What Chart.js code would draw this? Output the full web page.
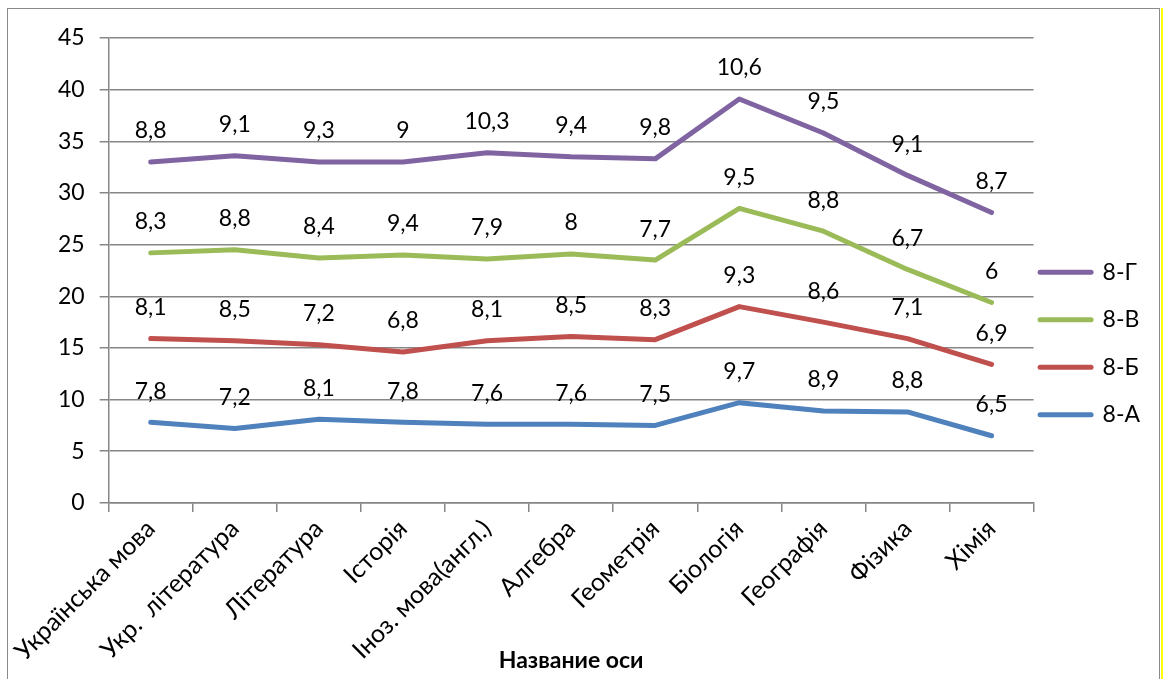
<!DOCTYPE html>
<html>
<head>
<meta charset="utf-8">
<script src="https://cdn.jsdelivr.net/npm/chart.js@4"></script>
<style>
  html, body { margin: 0; padding: 0; background: #fff; }
  #wrap { position: relative; width: 1163px; height: 679px; overflow: hidden; }
  #c { position: absolute; left: 0; top: 0; }
  #frame { position: absolute; left: 7px; top: 8px; width: 1151px; height: 700px; border: 1.5px solid #8a8a8a; pointer-events: none; }
  #ystripe { position: absolute; left: 1161px; top: 8px; width: 2px; height: 700px; background: #ffff00; }
</style>
</head>
<body>
<div id="wrap">
  <canvas id="c" width="1163" height="679"></canvas>
  <div id="frame"></div>
  <div id="ystripe"></div>
</div>
<script>
const categories = ['Українська мова', 'Укр.  література', 'Література', 'Історія', 'Іноз. мова(англ.)', 'Алгебра', 'Геометрія', 'Біологія', 'Географія', 'Фізика', 'Хімія'];
const class8A = [7.8, 7.2, 8.1, 7.8, 7.6, 7.6, 7.5, 9.7, 8.9, 8.8, 6.5];
const class8B = [8.1, 8.5, 7.2, 6.8, 8.1, 8.5, 8.3, 9.3, 8.6, 7.1, 6.9];
const class8V = [8.3, 8.8, 8.4, 9.4, 7.9, 8, 7.7, 9.5, 8.8, 6.7, 6];
const class8G = [8.8, 9.1, 9.3, 9, 10.3, 9.4, 9.8, 10.6, 9.5, 9.1, 8.7];
const seriesNames = ['8-А', '8-Б', '8-В', '8-Г'];
const seriesColors = ['#4F81BD', '#C0504D', '#9BBB59', '#8064A2'];
const yTicks = [0, 5, 10, 15, 20, 25, 30, 35, 40, 45];
const axisTitle = 'Название оси';

const FONT = 'Lato';
const FS = 23;

const valueLabels = {
  id: 'valueLabels',
  afterDatasetsDraw(chart) {
    const ctx = chart.ctx;
    ctx.save();
    ctx.font = FS + 'px ' + FONT;
    ctx.fillStyle = '#000';
    ctx.textAlign = 'center';
    ctx.textBaseline = 'middle';
    chart.data.datasets.forEach((ds, i) => {
      const meta = chart.getDatasetMeta(i);
      meta.data.forEach((pt, j) => {
        ctx.fillText(String(ds.data[j]).replace('.', ','), pt.x, pt.y - 31);
      });
    });
    ctx.restore();
  }
};

const allSeries = [class8A, class8B, class8V, class8G];
const datasets = allSeries.map((d, i) => ({
  label: seriesNames[i],
  data: d,
  borderColor: seriesColors[i],
  backgroundColor: seriesColors[i],
  borderWidth: 5,
  borderCapStyle: 'round',
  borderJoinStyle: 'round',
  pointRadius: 0,
  pointStyle: 'line',
  tension: 0,
  fill: false
}));

new Chart(document.getElementById('c'), {
  type: 'line',
  data: { labels: categories, datasets },
  plugins: [valueLabels],
  options: {
    responsive: false,
    animation: false,
    devicePixelRatio: 1,
    layout: { padding: { top: 38, left: 43, right: 13, bottom: 12 } },
    plugins: {
      tooltip: { enabled: false },
      legend: {
        position: 'right',
        reverse: true,
        labels: {
          usePointStyle: true,
          pointStyleWidth: 51,
          padding: 6.5,
          color: '#000',
          font: { family: FONT, size: FS, lineHeight: 41 / FS },
          generateLabels(chart) {
            const items = Chart.defaults.plugins.legend.labels.generateLabels(chart);
            items.forEach(it => { it.text = [it.text]; it.lineWidth = 5; it.lineCap = 'round'; });
            return items;
          }
        }
      }
    },
    scales: {
      x: {
        offset: true,
        grid: { display: true, drawOnChartArea: false, drawTicks: true, tickLength: 9, color: '#868686', lineWidth: 1.5, offset: true },
        border: { display: true, color: '#868686', width: 1.5 },
        ticks: { color: '#000', font: { family: FONT, size: 25 }, minRotation: 45, maxRotation: 45, autoSkip: false, padding: 2 },
        title: { display: true, text: axisTitle, color: '#000', font: { family: FONT, size: FS, weight: 'bold' }, padding: { top: -22, bottom: -7 } }
      },
      y: {
        stacked: true,
        min: 0, max: 45,
        afterBuildTicks(scale) { scale.ticks = yTicks.map(v => ({ value: v })); },
        grid: { color: '#868686', lineWidth: 1.5, tickLength: 9, drawTicks: true },
        border: { display: true, color: '#868686', width: 1.5 },
        ticks: { color: '#000', font: { family: FONT, size: FS }, padding: 15 }
      }
    }
  }
});
</script>
</body>
</html>
